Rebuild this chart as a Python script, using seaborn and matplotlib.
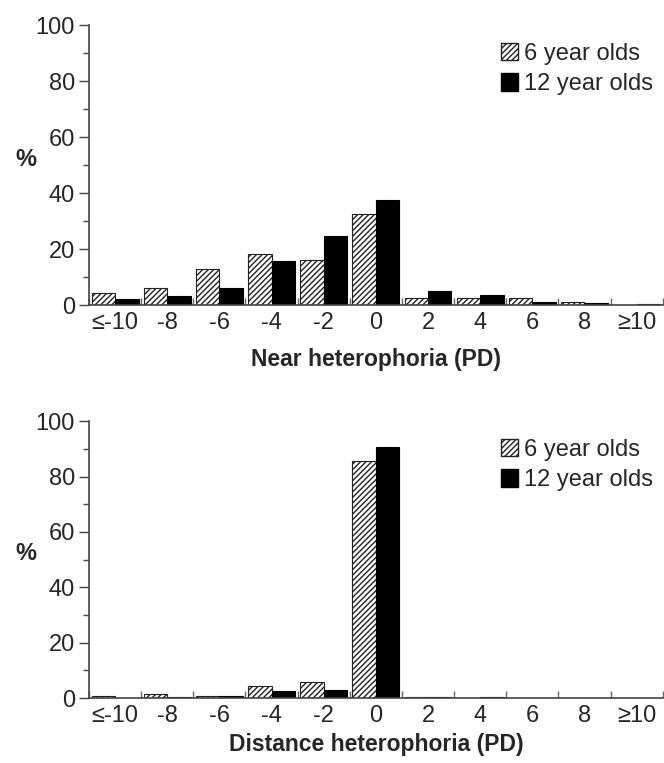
import pandas as pd
import matplotlib
matplotlib.use('Agg')
import matplotlib.pyplot as plt
import seaborn as sns
from matplotlib.patches import Patch
from matplotlib.ticker import MultipleLocator, FixedLocator

categorias = ['≤-10', '-8', '-6', '-4', '-2', '0', '2', '4', '6', '8', '≥10']
grupos = ['6 year olds', '12 year olds']

near_6 = [4.2, 6.3, 13.0, 18.3, 16.0, 32.4, 2.6, 2.4, 2.4, 1.0, 0.2]
near_12 = [2.1, 3.3, 6.3, 15.7, 24.6, 37.4, 5.0, 3.6, 1.0, 0.7, 0.4]

dist_6 = [0.6, 1.6, 0.8, 4.3, 6.0, 85.7, 0.4, 0.0, 0.0, 0.0, 0.1]
dist_12 = [0.2, 0.4, 0.8, 2.5, 3.0, 90.8, 0.4, 0.5, 0.2, 0.0, 0.1]


def armar_df(v6, v12):
    return pd.DataFrame({
        'Heteroforia': categorias * 2,
        'Grupo': [grupos[0]] * len(categorias) + [grupos[1]] * len(categorias),
        'Porcentaje': v6 + v12,
    })


def dibujar_panel(ax, df, xlabel, pad_label):
    sns.barplot(data=df, x='Heteroforia', y='Porcentaje', hue='Grupo',
                order=categorias, hue_order=grupos,
                palette=['white', 'black'], width=0.9, ax=ax,
                legend=False, saturation=1)
    # barras rayadas para los de 6 años
    for barra in ax.containers[0]:
        barra.set_hatch('//////')
        barra.set_edgecolor('#222222')
        barra.set_linewidth(0.8)
    for barra in ax.containers[1]:
        barra.set_edgecolor('black')
        barra.set_linewidth(0.8)

    ax.set_xlim(-0.5, len(categorias) - 0.5)
    ax.set_ylim(0, 100)
    ax.yaxis.set_major_locator(MultipleLocator(20))
    ax.yaxis.set_minor_locator(MultipleLocator(10))
    ax.tick_params(axis='y', which='both', left=True, direction='out')
    ax.tick_params(axis='y', which='major', length=7, width=1, color='#444444', labelsize=17, pad=3)
    ax.tick_params(axis='y', which='minor', length=4, width=1, color='#444444')
    ax.xaxis.set_minor_locator(FixedLocator([i - 0.5 for i in range(len(categorias) + 1)]))
    ax.tick_params(axis='x', which='both', bottom=True)
    ax.tick_params(axis='x', which='major', length=0, labelsize=17, pad=5)
    ax.tick_params(axis='x', which='minor', length=5, width=1, direction='in', color='#666666')

    for lado in ['top', 'right']:
        ax.spines[lado].set_visible(False)
    for lado in ['left', 'bottom']:
        ax.spines[lado].set_color('#444444')
        ax.spines[lado].set_linewidth(1.2)

    ax.set_xlabel(xlabel, fontsize=16.5, fontweight='bold', labelpad=pad_label)
    ax.set_ylabel('%', fontsize=17, fontweight='bold', rotation=0)
    ax.yaxis.set_label_coords(-0.11, 0.48)

    handles = [Patch(facecolor='white', edgecolor='#222222', hatch='//////'),
               Patch(facecolor='black', edgecolor='black')]
    ax.legend(handles, grupos, loc='upper right', bbox_to_anchor=(1.0, 0.97),
              frameon=False, fontsize=17, handlelength=0.75, handleheight=0.75,
              handletextpad=0.25, labelspacing=0.35, borderaxespad=0.0)


sns.set_theme(style='white')
plt.rcParams['font.family'] = ['Liberation Sans', 'DejaVu Sans']
plt.rcParams['hatch.linewidth'] = 1.0
plt.rcParams['hatch.color'] = 'black'

fig = plt.figure(figsize=(6.64, 7.63), dpi=100)
ax1 = fig.add_axes([0.134, 0.600, 0.864, 0.367])
ax2 = fig.add_axes([0.134, 0.085, 0.864, 0.363])

dibujar_panel(ax1, armar_df(near_6, near_12), 'Near heterophoria (PD)', 10)
dibujar_panel(ax2, armar_df(dist_6, dist_12), 'Distance heterophoria (PD)', 4)

fig.savefig('out.png', dpi=100, facecolor='white')
